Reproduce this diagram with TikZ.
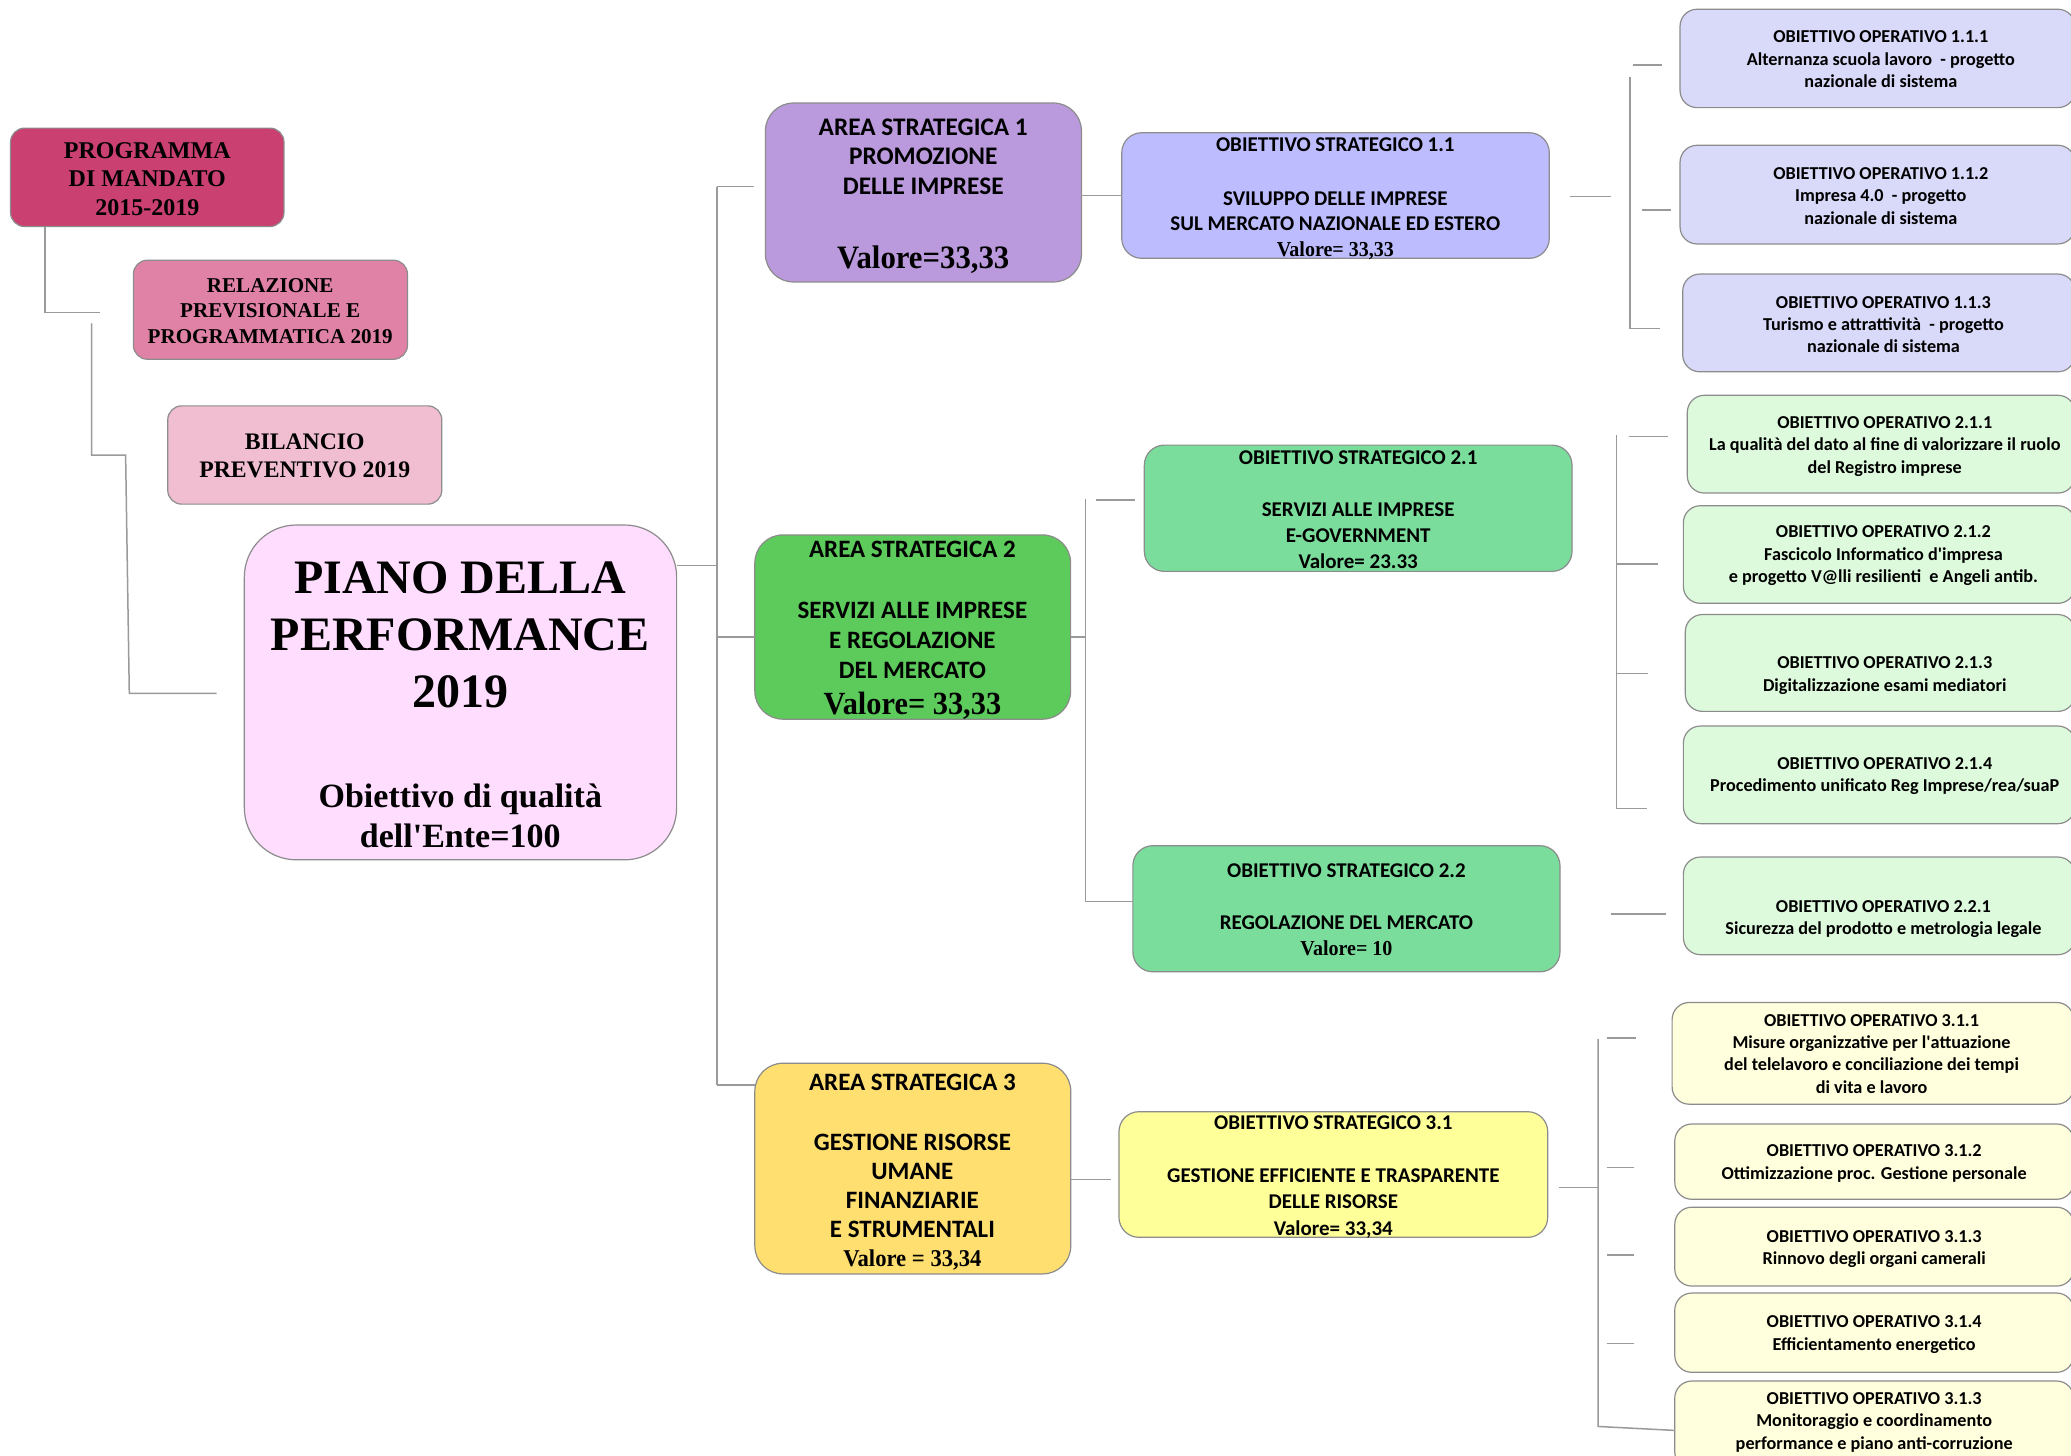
\documentclass[tikz,border=0pt]{standalone}
\usepackage{fontspec}
\setmainfont{Liberation Serif}
\newfontfamily\calfont{Carlito}
\newfontfamily\valfont[FakeStretch=0.94]{Liberation Serif}
\usetikzlibrary{calc}

\definecolor{cProg}{HTML}{C94071}
\definecolor{cRel}{HTML}{E082A6}
\definecolor{cBil}{HTML}{F0BED0}
\definecolor{cPiano}{HTML}{FFDDFF}
\definecolor{cA1}{HTML}{BA9ADC}
\definecolor{cO1}{HTML}{BCBCFF}
\definecolor{cP1}{HTML}{D9D9FA}
\definecolor{cA2}{HTML}{5CCB5C}
\definecolor{cO2}{HTML}{7BDD9C}
\definecolor{cP2}{HTML}{DDFADD}
\definecolor{cA3}{HTML}{FFDF6F}
\definecolor{cO3}{HTML}{FFFF99}
\definecolor{cP3}{HTML}{FFFFDD}
\definecolor{boxgray}{HTML}{8C8C8C}
\definecolor{lingray}{HTML}{9A9A9A}

\newcommand\fSB[2]{\calfont\bfseries\fontsize{#1}{#2}\selectfont}
\newcommand\fRB[2]{\rmfamily\bfseries\fontsize{#1}{#2}\selectfont}
\newcommand\fRR[1]{\valfont\bfseries\fontsize{#1}{#1}\selectfont}

% name, fill, radius, x1, y1, x2, y2
\newcommand\mkbox[7]{%
  \node[bx, fill=#2, rounded corners=#3,
        minimum width={(#6-#4)*1.3208pt}, minimum height={(#7-#5)*1.3208pt}]
        (#1) at ({(#4+#6)/2},{(#5+#7)/2}) {};}

\tikzset{
  bx/.style={draw=boxgray, line width=1.2pt, inner sep=0pt, outer sep=0pt},
  conn/.style={draw=lingray, line width=1.5pt},
  txt/.style={align=center, inner sep=0pt, text=black},
  optxt/.style={txt, font=\fSB{18.2}{22.4}},
}

\begin{document}
\begin{tikzpicture}[x=1.3208pt, y=-1.3208pt]
\useasboundingbox (0,0) rectangle (1568,1102);
\fill[white] (0,0) rectangle (1568,1102);
\clip (0,0) rectangle (1568,1102);

% ---------- boxes ----------
\mkbox{prog}{cProg}{14pt}{8}{97}{215}{171.5}
\mkbox{rel}{cRel}{14pt}{101}{197}{308.5}{272}
\mkbox{bil}{cBil}{14pt}{127}{307.3}{334.5}{381.7}
\mkbox{piano}{cPiano}{52pt}{185}{397.5}{512.3}{651}

\mkbox{area1}{cA1}{28pt}{579.5}{78}{818.8}{213.5}
\mkbox{area2}{cA2}{28pt}{571.5}{405}{810.6}{544.5}
\mkbox{area3}{cA3}{28pt}{571.5}{805}{810.7}{964.5}

\mkbox{os11}{cO1}{20pt}{849.3}{100.5}{1173}{195.6}
\mkbox{os21}{cO2}{20pt}{866.4}{337}{1190.2}{432.6}
\mkbox{os22}{cO2}{20pt}{857.7}{640.3}{1181.1}{735.8}
\mkbox{os31}{cO3}{20pt}{847.2}{841.7}{1171.8}{936.8}

\mkbox{op111}{cP1}{17pt}{1272}{7}{1571}{81.5}
\mkbox{op112}{cP1}{17pt}{1272}{110}{1571}{184.7}
\mkbox{op113}{cP1}{17pt}{1274}{207.5}{1571}{281.5}
\mkbox{op211}{cP2}{17pt}{1277.5}{299.3}{1571}{373.3}
\mkbox{op212}{cP2}{17pt}{1274.5}{382.9}{1571}{456.8}
\mkbox{op213}{cP2}{17pt}{1276}{465.3}{1571}{538.6}
\mkbox{op214}{cP2}{17pt}{1274.5}{549.7}{1571}{623.6}
\mkbox{op221}{cP2}{17pt}{1274.5}{648.9}{1571}{722.8}
\mkbox{op311}{cP3}{17pt}{1266}{759}{1570}{836}
\mkbox{op312}{cP3}{17pt}{1268}{851}{1570}{908}
\mkbox{op313}{cP3}{17pt}{1268}{914}{1570}{973.7}
\mkbox{op314}{cP3}{17pt}{1268}{979}{1570}{1039}
\mkbox{op315}{cP3}{17pt}{1268}{1045.6}{1570}{1112}

% ---------- texts ----------
\node[txt, font=\fRB{24}{28.4}] (prog-t) at (111.5,135.4) {PROGRAMMA\\DI MANDATO\\2015-2019};
\node[txt, font=\fRB{21.1}{25.6}] (rel-t) at (204.6,235.3) {RELAZIONE\\PREVISIONALE E\\PROGRAMMATICA 2019};
\node[txt, font=\fRB{23.7}{27.6}] (bil-t) at (230.7,345.2) {BILANCIO\\PREVENTIVO 2019};
\node[txt, font=\fRB{48}{56.7}] (piano-t) at (348.5,533.7)
  {PIANO DELLA\\PERFORMANCE\\2019\\[43.3pt]{\fontsize{34}{40}\selectfont Obiettivo di qualità}\\[-16.7pt]{\fontsize{34}{40}\selectfont dell\textquotesingle Ente=100}};

\node[txt, font=\fSB{25.3}{29.3}] (area1-t) at (699,148.5)
  {AREA STRATEGICA 1\\PROMOZIONE\\DELLE IMPRESE\\[45.1pt]{\fRR{32.7}Valore=33,33}};
\node[txt, font=\fSB{25}{29.6}] (area2-t) at (690.8,476.9)
  {AREA STRATEGICA 2\\[32.2pt]SERVIZI ALLE IMPRESE\\E REGOLAZIONE\\DEL MERCATO\\[6.3pt]{\fRR{32.3}Valore= 33,33}};
\node[txt, font=\fSB{25}{29.2}] (area3-t) at (690.8,887.8)
  {AREA STRATEGICA 3\\[30pt]GESTIONE RISORSE\\UMANE\\FINANZIARIE\\E STRUMENTALI\\{\fRR{24.1}Valore = 33,34}};

\node[txt, font=\fSB{21}{25.6}] (os11-t) at (1011,150.7)
  {OBIETTIVO STRATEGICO 1.1\\[27.8pt]SVILUPPO DELLE IMPRESE\\SUL MERCATO NAZIONALE ED ESTERO\\{\fRR{21.3}Valore= 33,33}};
\node[txt, font=\fSB{21}{26.2}] (os21-t) at (1028.3,386)
  {OBIETTIVO STRATEGICO 2.1\\[26pt]SERVIZI ALLE IMPRESE\\E-GOVERNMENT\\Valore= 23.33};
\node[txt, font=\fSB{21}{26.2}] (os22-t) at (1019.4,688.7)
  {OBIETTIVO STRATEGICO 2.2\\[25.8pt]REGOLAZIONE DEL MERCATO\\{\fRR{21.3}Valore= 10}};
\node[txt, font=\fSB{21}{26.5}] (os31-t) at (1009.5,891)
  {OBIETTIVO STRATEGICO 3.1\\[26pt]GESTIONE EFFICIENTE E TRASPARENTE\\DELLE RISORSE\\Valore= 33,34};

\node[optxt] (op111-t) at (1424,45) {OBIETTIVO OPERATIVO 1.1.1\\Alternanza scuola lavoro\ \ - progetto\\nazionale di sistema};
\node[optxt] (op112-t) at (1424,148.3) {OBIETTIVO OPERATIVO 1.1.2\\Impresa 4.0\ \ - progetto\\nazionale di sistema};
\node[optxt] (op113-t) at (1426,245.8) {OBIETTIVO OPERATIVO 1.1.3\\Turismo e attrattività\ \ - progetto\\nazionale di sistema};
\node[optxt] (op211-t) at (1427,337.9) {OBIETTIVO OPERATIVO 2.1.1\\La qualità del dato al fine di valorizzare il ruolo\\del Registro imprese};
\node[optxt] (op212-t) at (1426,420.9) {OBIETTIVO OPERATIVO 2.1.2\\Fascicolo Informatico d\textquotesingle impresa\\e progetto V@lli resilienti\ \ e Angeli antib.};
\node[optxt] (op213-t) at (1427,511.4) {OBIETTIVO OPERATIVO 2.1.3\\Digitalizzazione esami mediatori};
\node[optxt] (op214-t) at (1427,587.4) {OBIETTIVO OPERATIVO 2.1.4\\Procedimento unificato Reg Imprese/rea/suaP};
\node[optxt] (op221-t) at (1426,695.9) {OBIETTIVO OPERATIVO 2.2.1\\Sicurezza del prodotto e metrologia legale};
\node[optxt] (op311-t) at (1417,797.9) {OBIETTIVO OPERATIVO 3.1.1\\Misure organizzative per l\textquotesingle attuazione\\del telelavoro e conciliazione dei tempi\\di vita e lavoro};
\node[optxt] (op312-t) at (1419,881) {OBIETTIVO OPERATIVO 3.1.2\\Ottimizzazione proc. Gestione personale};
\node[optxt] (op313-t) at (1419,945.9) {OBIETTIVO OPERATIVO 3.1.3\\Rinnovo degli organi camerali};
\node[optxt] (op314-t) at (1419,1010.4) {OBIETTIVO OPERATIVO 3.1.4\\Efficientamento energetico};
\node[optxt] (op315-t) at (1419,1076.9) {OBIETTIVO OPERATIVO 3.1.3\\Monitoraggio e coordinamento\\performance e piano anti-corruzione};

% ---------- connectors ----------
% left column
\coordinate (l1e) at (75.7,236.7);
\draw[conn] ($(prog.south west)+(26,0)$) |- (l1e);
\coordinate (l2s) at (69.4,244.8);
\coordinate (l2m) at (95.1,344.5);
\coordinate (l2k) at (97.9,525);
\coordinate (l2e) at (164,525);
\draw[conn] (l2s) |- (l2m) -- (l2k) -- (l2e);

% trunk
\coordinate (tt) at (543,141.3);
\coordinate (tm) at (543,428);
\coordinate (t2) at (543,482.3);
\coordinate (tb) at (543,821.5);
\coordinate (a1e) at (570.5,141.3);
\draw[conn] (piano.east |- tm) -- (tm);
\draw[conn] (tt) -- (tb);
\draw[conn] (tt) -- (a1e);
\draw[conn] (t2) -- (area2.west |- t2);
\draw[conn] (tb) -- (area3.west |- tb);

% area 1
\draw[conn] (area1.east |- os11.west) -- (os11.west);
\coordinate (b1a) at (1189,148.8);
\coordinate (b1b) at (1220,148.8);
\draw[conn] (b1a) -- (b1b);
\coordinate (v1t) at (1234,58.6);
\coordinate (v1b) at (1257,248.6);
\draw[conn] (v1t) |- (v1b);
\coordinate (h1a) at (1236,49.2);
\coordinate (h1b) at (1258,49.2);
\draw[conn] (h1a) -- (h1b);
\coordinate (h2a) at (1243,159);
\coordinate (h2b) at (1265,159);
\draw[conn] (h2a) -- (h2b);

% area 2
\coordinate (v2c) at (822,482.3);
\draw[conn] (area2.east |- v2c) -- (v2c);
\coordinate (v2t) at (822,378);
\coordinate (v2b) at (822,682.5);
\draw[conn] (v2t) -- (v2b) -- (os22.west |- v2b);
\coordinate (g1a) at (830,378.5);
\coordinate (g1b) at (859.5,378.5);
\draw[conn] (g1a) -- (g1b);

\coordinate (v3t) at (1224,329.7);
\coordinate (v3b) at (1247,612);
\draw[conn] (v3t) |- (v3b);
\coordinate (k1a) at (1233,330.6);
\coordinate (k1b) at (1263,330.6);
\draw[conn] (k1a) -- (k1b);
\coordinate (k2a) at (1224,427);
\coordinate (k2b) at (1255,427);
\draw[conn] (k2a) -- (k2b);
\coordinate (k3a) at (1224,510);
\coordinate (k3b) at (1248,510);
\draw[conn] (k3a) -- (k3b);
\coordinate (k4a) at (1220,692);
\coordinate (k4b) at (1261,692);
\draw[conn] (k4a) -- (k4b);

% area 3
\coordinate (a3e) at (841,893);
\draw[conn] (area3.east |- a3e) -- (a3e);
\coordinate (b3a) at (1180,898.9);
\coordinate (v4t) at (1210,786.7);
\coordinate (v4b) at (1210,1080);
\draw[conn] (b3a) -- (v4t |- b3a);
\draw[conn] (v4t) -- (v4b) -- ($(op315.west)+(0,4.2)$);
\coordinate (m1a) at (1216.5,786);
\coordinate (m1b) at (1239,786);
\draw[conn] (m1a) -- (m1b);
\coordinate (m2a) at (1216.5,884);
\coordinate (m2b) at (1237,884);
\draw[conn] (m2a) -- (m2b);
\coordinate (m3a) at (1216.5,950);
\coordinate (m3b) at (1237,950);
\draw[conn] (m3a) -- (m3b);
\coordinate (m4a) at (1216.5,1017);
\coordinate (m4b) at (1237,1017);
\draw[conn] (m4a) -- (m4b);
\end{tikzpicture}
\end{document}
